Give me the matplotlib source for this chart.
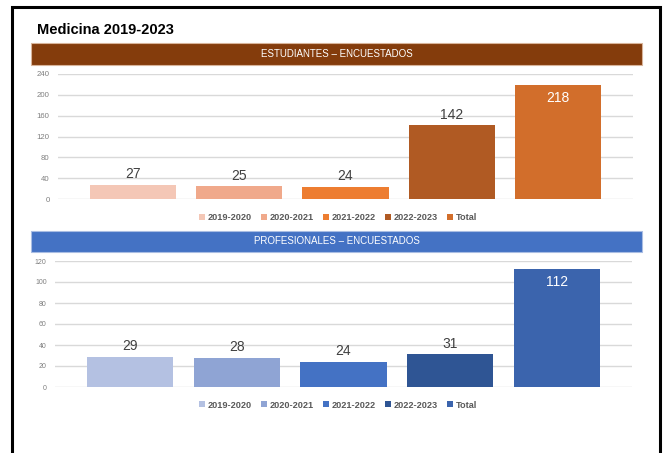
import matplotlib
matplotlib.use('Agg')
import matplotlib.pyplot as plt
from matplotlib.patches import Rectangle

plt.rcParams['font.family'] = ['Liberation Sans', 'DejaVu Sans']

periodos = ['2019-2020', '2020-2021', '2021-2022', '2022-2023', 'Total']
estudiantes = [27, 25, 24, 142, 218]
profesionales = [29, 28, 24, 31, 112]

colores_est = ['#F4C7B6', '#F0A98B', '#ED7D31', '#B05A23', '#D26E2B']
colores_prof = ['#B4C1E2', '#8FA4D4', '#4472C4', '#2F5594', '#3B64AD']

W, H = 667, 453


def px_rect(x0, y0, x1, y1):
    # pasa coordenadas en pixeles (origen arriba-izquierda) a fraccion de figura
    return [x0 / W, 1 - y1 / H, (x1 - x0) / W, (y1 - y0) / H]


def dibujar_panel(fig, caja_ax, caja_banner, titulo, color_banner, borde_banner,
                  valores, colores, ymax, paso, fs_ticks, leyenda_y):
    bx, by, bw, bh = px_rect(*caja_banner)
    fig.patches.append(Rectangle((bx, by), bw, bh, transform=fig.transFigure,
                                 facecolor=color_banner, edgecolor=borde_banner, lw=0.8))
    fig.text(bx + bw / 2, by + bh / 2, titulo, color='white', fontsize=7,
             ha='center', va='center')

    ax = fig.add_axes(px_rect(*caja_ax))
    x = list(range(len(valores)))
    barras = []
    for i, (v, c) in enumerate(zip(valores, colores)):
        b = ax.bar(i, v, width=0.81, color=c, label=periodos[i], zorder=2)
        barras.append(b)
    # etiquetas de valor
    for i, v in enumerate(valores):
        if v == max(valores):
            ax.annotate(f'{v}', (i, v), xytext=(0, -4), textcoords='offset points',
                        ha='center', va='top', color='white', fontsize=10)
        else:
            ax.annotate(f'{v}', (i, v), xytext=(0, 2.5), textcoords='offset points',
                        ha='center', va='bottom', color='#404040', fontsize=10)

    ax.set_xlim(-0.705, 4.705)
    ax.set_ylim(0, ymax)
    ax.set_yticks(range(0, ymax + 1, paso))
    ax.set_xticks([])
    ax.tick_params(axis='y', length=0, pad=6, labelsize=fs_ticks, labelcolor='#7F7F7F')
    ax.grid(axis='y', color='#D9D9D9', lw=1, zorder=0)
    for s in ax.spines.values():
        s.set_visible(False)
    ax.set_facecolor('none')

    fig.legend(handles=barras, labels=periodos, loc='center',
               bbox_to_anchor=(338 / W, 1 - leyenda_y / H), ncol=5, frameon=False,
               prop={'size': 6.6, 'weight': 'bold'}, labelcolor='#595959',
               handlelength=0.65, handleheight=0.65, handletextpad=0.3,
               columnspacing=1.0, borderpad=0)
    return ax


fig = plt.figure(figsize=(W / 100, H / 100), dpi=100)
fig.patch.set_facecolor('white')

# marco exterior
fig.patches.append(Rectangle((11.5 / W, -0.05), (659.5 - 11.5) / W, 1.05 - 7.5 / H,
                             transform=fig.transFigure, fill=False,
                             edgecolor='black', lw=2.2))

fig.text(37 / W, 1 - 30 / H, 'Medicina 2019-2023', fontsize=10.5, fontweight='bold',
         ha='left', va='center', color='black')

dibujar_panel(fig, (58, 74, 633, 199), (31, 43, 642, 65), 'ESTUDIANTES – ENCUESTADOS',
              '#843C0C', '#D8B49A', estudiantes, colores_est, 240, 40, 5.6, 218)
dibujar_panel(fig, (55, 261, 632, 387), (31, 231, 642, 252), 'PROFESIONALES – ENCUESTADOS',
              '#4472C4', '#A9BDE3', profesionales, colores_prof, 120, 20, 5.0, 405)

fig.savefig('out.png', dpi=100)
